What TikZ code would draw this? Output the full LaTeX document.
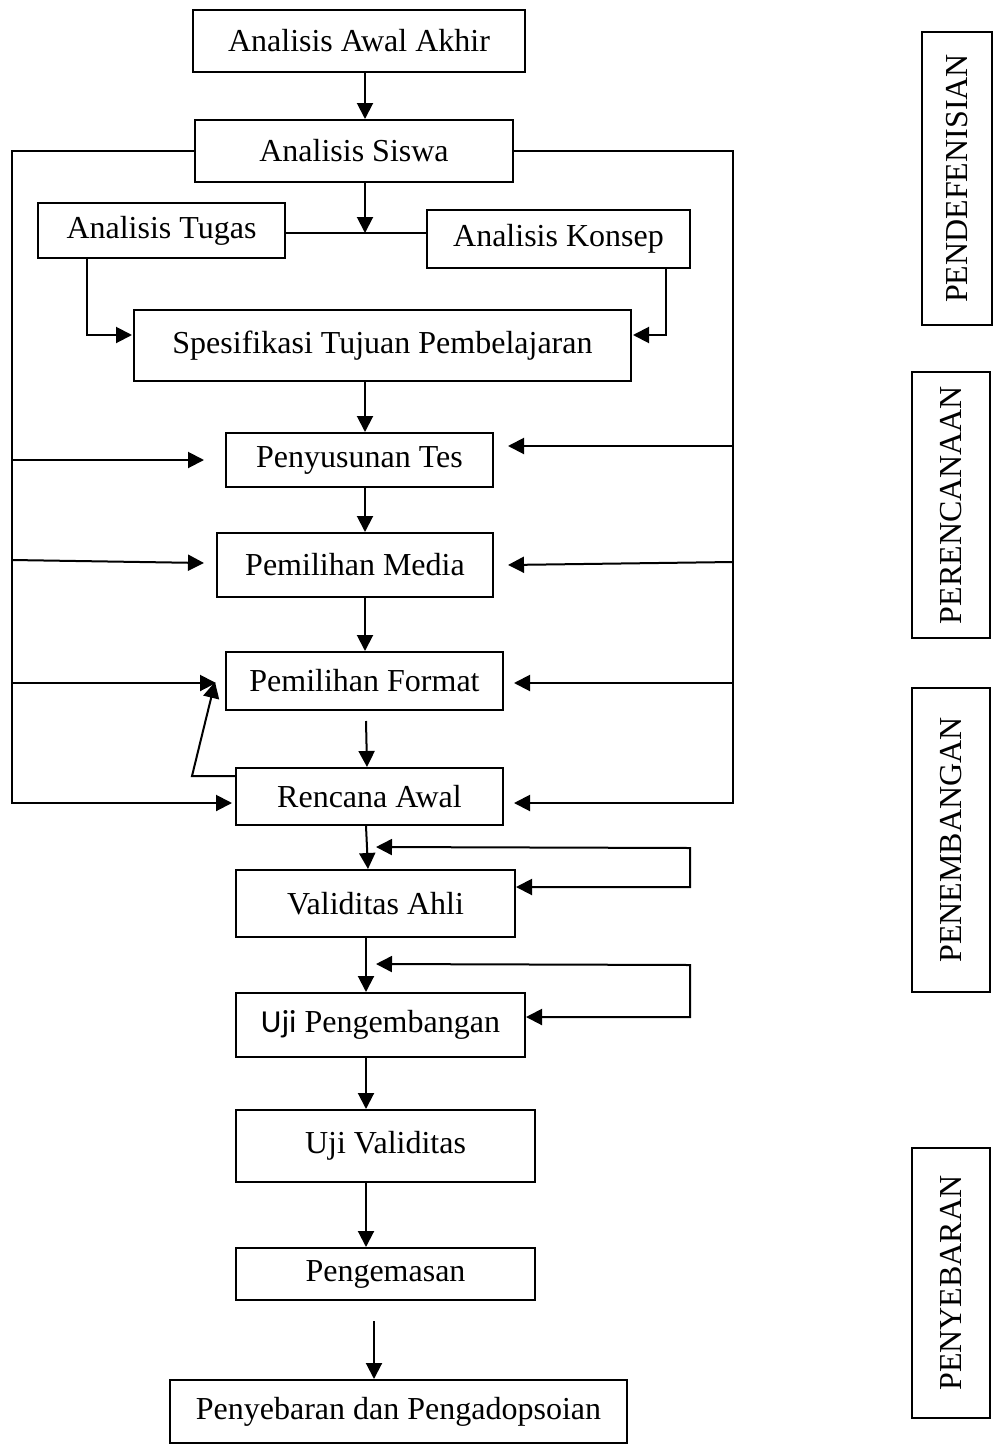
\documentclass[tikz,border=0pt]{standalone}
\usepackage{fontspec}
\setmainfont{Liberation Serif}
\newfontfamily\calfont{Carlito}
\usetikzlibrary{arrows.meta,calc}
\begin{document}
\begin{tikzpicture}[x=1pt,y=-1pt,
  box/.style={draw,line width=2pt,inner sep=0pt,font=\fontsize{32}{38}\selectfont},
  stage/.style={draw,line width=2pt,inner sep=0pt,rotate=90,font=\fontsize{32}{38}\selectfont},
  ln/.style={line width=2pt},
  arr/.style={ln,-{Triangle[length=16pt,width=16pt]}},
  arrb/.style={ln,{Triangle[length=16pt,width=16pt]}-{Triangle[length=16pt,width=16pt]}}]
\useasboundingbox (0,0) rectangle (993,1445);
% axes
\coordinate (m) at (365,0);
\coordinate (m2) at (374,0);
\coordinate (L) at (12,0);
\coordinate (R) at (733,0);
\coordinate (tx) at (87,0);
\coordinate (kx) at (666,0);
\coordinate (j) at (365,233);
\coordinate (lb) at (12,803);
\coordinate (rb) at (733,803);
\coordinate (v1) at (690,848);
\coordinate (v2) at (690,965);
% boxes
\node[box,minimum width=332,minimum height=62] (aaa) at (359,41) {Analisis Awal Akhir};
\node[box,minimum width=318,minimum height=62] (siswa) at (354,151) {Analisis Siswa};
\node[box,minimum width=247,minimum height=55] (tugas) at (161.5,230.5) {Analisis Tugas};
\node[box,minimum width=263,minimum height=58] (konsep) at (558.5,239) {Analisis Konsep};
\node[box,minimum width=497,minimum height=71] (spes) at (382.5,345.5) {Spesifikasi Tujuan Pembelajaran};
\node[box,minimum width=267,minimum height=54] (tes) at (359.5,460) {Penyusunan Tes};
\node[box,minimum width=276,minimum height=64] (media) at (355,565) {Pemilihan Media};
\node[box,minimum width=277,minimum height=58] (format) at (364.5,681) {Pemilihan Format};
\node[box,minimum width=267,minimum height=57] (rencana) at (369.5,796.5) {Rencana Awal};
\node[box,minimum width=279,minimum height=67] (validitas) at (375.5,903.5) {Validitas Ahli};
\node[box,minimum width=289,minimum height=64] (ujipeng) at (380.5,1025) {{\calfont Uji} Pengembangan};
\node[box,minimum width=299,minimum height=72] (ujival) at (385.5,1146) {Uji Validitas};
\node[box,minimum width=299,minimum height=52] (pengemasan) at (385.5,1274) {Pengemasan};
\node[box,minimum width=457,minimum height=63] (penyebaran) at (398.5,1411.5) {Penyebaran dan Pengadopsoian};
% stages
\node[stage,minimum width=293,minimum height=70] (s1) at (957,178.5) {PENDEFENISIAN};
\node[stage,minimum width=266,minimum height=78] (s2) at (951,505) {PERENCANAAN};
\node[stage,minimum width=304,minimum height=78] (s3) at (951,840) {PENEMBANGAN};
\node[stage,minimum width=270,minimum height=78] (s4) at (951,1283) {PENYEBARAN};
% connectors
\draw[arr] (aaa.south -| m) -- (siswa.north -| m);
\draw[arr] (siswa.west) -| (lb) -- ($(rencana.west |- lb)+(-3,0)$);
\draw[arr] (siswa.east) -| (rb) -- ($(rencana.east |- rb)+(10,0)$);
\draw[ln] (tugas.east |- j) -- (konsep.west |- j);
\draw[arr] (siswa.south -| m) -- (j);
\draw[arr] (tugas.south -| tx) |- ($(spes.west)+(-1,-10.5)$);
\draw[arr] (konsep.south -| kx) |- ($(spes.east)+(1,-10.5)$);
\draw[arr] (spes.south -| m) -- (tes.north -| m);
\draw[arr] (L |- tes.west) -- ($(tes.west)+(-21,0)$);
\draw[arr] ($(R |- tes.east)+(0,-14)$) -- ($(tes.east)+(14,-14)$);
\draw[arr] (tes.south -| m) -- (media.north -| m);
\draw[arr] ($(L |- media.west)+(0,-5)$) -- ($(media.west)+(-12,-2)$);
\draw[arr] ($(R |- media.east)+(0,-3)$) -- ($(media.east)+(14,0)$);
\draw[arr] (media.south -| m) -- (format.north -| m);
\draw[arr] ($(L |- format.west)+(0,2)$) -- ($(format.west)+(-9,2)$);
\draw[arr] ($(R |- format.east)+(0,2)$) -- ($(format.east)+(10,2)$);
\draw[arr] ($(format.south -| m)+(1,10)$) -- ($(rencana.north -| m)+(2,0)$);
\draw[arr] ($(rencana.west)+(0,-20.5)$) -- ++(-43,0) -- ($(format.west)+(-10,1)$);
\draw[arr] ($(rencana.south -| m)+(1,0)$) -- ($(validitas.north -| m)+(3,0)$);
\draw[arrb] ($(validitas.north -| m)+(11,-22)$) -- (v1) |- ($(validitas.east)+(0,-16.5)$);
\draw[arr] ($(validitas.south -| m)+(1,0)$) -- ($(ujipeng.north -| m)+(1,0)$);
\draw[arrb] ($(ujipeng.north -| m)+(11,-28)$) -- (v2) |- ($(ujipeng.east)+(0,-8)$);
\draw[arr] ($(ujipeng.south -| m)+(1,0)$) -- ($(ujival.north -| m)+(1,0)$);
\draw[arr] ($(ujival.south -| m)+(1,0)$) -- ($(pengemasan.north -| m)+(1,0)$);
\draw[arr] ($(pengemasan.south -| m2)+(0,20)$) -- (penyebaran.north -| m2);
\end{tikzpicture}
\end{document}
